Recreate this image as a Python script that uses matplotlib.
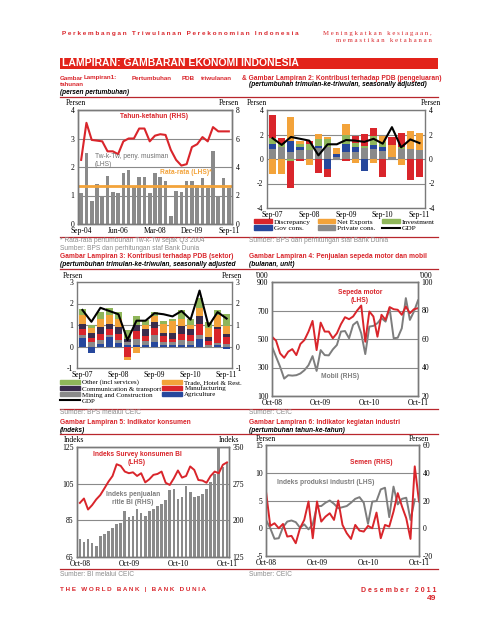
import numpy as np
import matplotlib.pyplot as plt
from matplotlib.lines import Line2D
from matplotlib.patches import Rectangle, Patch

plt.rcParams['font.family'] = ['Liberation Sans', 'DejaVu Sans']
plt.rcParams['axes.unicode_minus'] = False
SERIF = 'Liberation Serif'

RED = "#d9252b"
LINE_RED = "#b8262c"
GRAY = "#8a8a8a"
TXT_GRAY = "#8c8c8c"
FRAME = "#7a7a7a"
GRID = "#8a8a8a"
ORANGE = "#f3a33a"
GREEN = "#8fb65a"
BLUE = "#26479c"
DARK = "#3a2c4c"

# --- Chart 1: quarterly GDP growth
c1_ticks = ["Sep-04", "Jun-06", "Mar-08", "Dec-09", "Sep-11"]
qoq_sa = [1.1, 2.5, 0.82, 1.4, 1.0, 1.7, 1.12, 1.1, 1.8, 1.88, 1.3, 1.66, 1.66, 1.1, 1.8,
          1.65, 1.52, 0.28, 1.15, 1.13, 1.52, 1.52, 1.38, 1.6, 1.25, 2.55, 1.0, 1.6, 1.25]
yoy = [4.5, 7.1, 5.9, 5.85, 5.8, 5.1, 5.1, 4.9, 5.8, 6.0, 6.0, 6.7, 6.7, 5.8, 6.2,
       6.3, 6.25, 5.2, 4.5, 4.1, 4.2, 5.4, 5.6, 6.1, 5.8, 6.8, 6.5, 6.5, 6.5]
qoq_avg = 1.32

# --- Chart 2: contributions by expenditure
c2_ticks = ["Sep-07", "Sep-08", "Sep-09", "Sep-10", "Sep-11"]
private_cons = [0.8, 1.0, 0.6, 0.7, 0.7, 0.9, 1.0, 0.2, 0.6, 0.6, 0.9, 0.8, 0.65, 0.2, 0.8, 0.8, 0.7]
gov_cons = [0.4, 0, 0.85, 0.3, 0, 0.2, -0.85, 0.2, 0.6, 0.35, -1.0, 0.35, 0.35, 0, 0, 0, 0]
investment = [0.5, 0.2, -0.2, 0.2, 0.5, 0.5, 0.6, 0, 0.8, 0.35, 0.2, 0.75, 0.4, 0, 0.2, 0, 0]
net_exports = [-1.25, -1.25, 1.95, 0.3, -0.5, 0.45, 0.2, 0.5, 0.85, -0.3, 0, -0.3, 0.5, 0.95, -0.45, 1.5, 1.4]
discrepancy = [1.9, 0.5, -2.15, -0.2, 0.3, -1.15, -0.6, 0, -0.2, 0.55, 0.9, 0.65, -1.5, 0.65, 1.1, -1.75, -1.45]
gdp_qoq = [1.7, 1.15, 1.8, 1.65, 1.5, 0.3, 1.2, 1.2, 1.55, 1.5, 1.4, 1.65, 1.25, 2.6, 0.95, 1.6, 1.3]

# --- Chart 3: contributions by sector
agriculture = [0.4, -0.3, 0.1, 0.45, 0.15, 0.05, 0.05, 0.05, 0.2, 0.05, 0.05, 0.05, 0.05, 0.35, 0.0, 0.05, -0.1]
mining_constr = [0.15, 0.2, 0.2, 0.1, 0.15, 0.15, 0.3, 0.2, 0.35, 0.15, 0.15, 0.25, 0.2, 0.2, 0.05, 0.1, 0.1]
manufacturing = [0.25, 0.2, 0.3, 0.25, 0.3, -0.5, 0.35, 0.25, 0.3, 0.3, 0.15, 0.3, 0.3, 0.5, 0.2, 0.65, 0.35]
comm_transport = [0.25, 0.25, 0.3, 0.25, 0.3, 0.15, 0.3, 0.3, 0.3, 0.15, 0.3, 0.35, 0.25, 0.35, 0.2, 0.1, 0.15]
trade_hotel = [0.4, 0.2, 0.4, 0.4, 0.4, -0.15, -0.3, 0.2, 0.25, 0.4, 0.55, 0.35, 0.2, 0.4, 0.4, 0.55, 0.35]
other_serv = [0.3, 0.15, 0.3, 0.35, 0.3, 0.4, 0.4, 0.25, 0.2, 0.15, 0.1, 0.4, 0.3, 0.45, 0.3, 0.25, 0.55]

# --- Chart 4: motorcycle and car sales ('000 units, monthly)
c4_ticks = ["Oct-08", "Oct-09", "Oct-10", "Oct-11"]
motor = [516, 488, 399, 368, 411, 429, 387, 465, 493, 552, 627, 422, 615, 552, 552, 505, 540, 604, 653,
         639, 658, 700, 735, 481, 693, 658, 516, 670, 634, 724, 709, 705, 670, 728, 681, 709, 716]
mobil = [54.6, 47.5, 40.5, 32.2, 34.6, 34.3, 34.6, 35.8, 38.1, 41.6, 48, 37.6, 52.2, 48.7, 48.5, 52.7,
         55.8, 65.2, 65.6, 60.5, 69.9, 72.2, 64, 49.4, 68.7, 69.2, 71.1, 74.6, 72.2, 81.6, 60.5, 60.9,
         67.5, 88.7, 73.4, 79.3, 87.1]

# --- Chart 5: consumer indicators
survey_bi = [94.5, 96.9, 90.9, 93.3, 96.4, 98.8, 102.4, 106.1, 109.2, 115.6, 114.7, 111.6, 110.7, 111.2,
             109.2, 110.7, 105.7, 107.4, 109.8, 110.3, 111.6, 105.5, 104.3, 107.9, 112.2, 108.3, 109.2,
             114.4, 112.5, 107.0, 106.7, 105.5, 109.2, 111.6, 110.7, 115.3, 116.6]
retail_bi = [161, 155, 162, 153, 148, 167, 172, 179, 185, 193, 195, 219, 206, 208, 223, 215, 208, 219, 223,
             230, 233, 241, 262, 264, 244, 247, 271, 258, 247, 250, 254, 265, 278, 295, 347, 309, 318]

# --- Chart 6: industrial activity (yoy)
semen = [26.5, 1.7, 3.6, 0, 3.1, -6, -5.5, -10.8, 0, 6, 19.3, -7.2, 19.3, 4.8, 8.4, 10.8, 6, 20, 2.4,
         -3.6, -7.7, 2.4, -1.7, -2.4, 1.7, 0, 11.3, -7.2, 2.4, 1.2, 12, 25.3, 15.7, 7.2, -7.7, 44.6, 19.3]
ipi = [1.5, 0, -1.9, -1.8, 0.2, 1.2, 1.4, 1.1, 0.1, 0.7, -0.2, 0.7, 4.0, 4.0, 4.6, 5.0, 4.4, 3.6, 3.8,
       4.0, 4.6, 5.3, 5.6, 4.6, 0.8, 4.8, 4.9, 7.0, 7.3, 2.0, 7.5, 4.3, 5.3, 5.5, 1.5, 5.2, np.nan]

W, H = 495, 640
fig = plt.figure(figsize=(W / 100, H / 100), dpi=100)


def box(x0, y0, x1, y1):
    return [x0 / W, 1 - y1 / H, (x1 - x0) / W, (y1 - y0) / H]


def txt(x, y, s, **kw):
    kw.setdefault("va", "center")
    kw.setdefault("fontsize", 4.8)
    fig.text(x / W, 1 - y / H, s, **kw)


def hline(y, x0=60, x1=438):
    fig.add_artist(Line2D([x0 / W, x1 / W], [1 - y / H] * 2, color=LINE_RED, lw=0.9))


def style(ax, left=True, right=False):
    for s in ax.spines.values():
        s.set_color(FRAME)
        s.set_linewidth(1.0)
    ax.tick_params(length=0, labelsize=5.5, labelfontfamily=SERIF, pad=2.5,
                   labelleft=left, labelright=right)
    ax.grid(axis="y", color=GRID, lw=0.8)
    ax.set_axisbelow(True)


def stack(ax, series, colors, width):
    x = np.arange(len(series[0]))
    pos = np.zeros(len(x))
    neg = np.zeros(len(x))
    for vals, col in zip(series, colors):
        v = np.array(vals, dtype=float)
        bottom = np.where(v >= 0, pos, neg)
        ax.bar(x, v, bottom=bottom, color=col, width=width, linewidth=0)
        pos = pos + np.clip(v, 0, None)
        neg = neg + np.clip(v, None, 0)


def spaced(s):
    return "   ".join(" ".join(w) for w in s.split())


# ---------------- page header
txt(62, 33, spaced("Perkembangan Triwulanan Perekonomian Indonesia"), color=RED,
    fontsize=4.6, fontweight="bold")
txt(432, 33, spaced("Meningkatkan kesiagaan,"), color=RED, fontsize=4.9, family=SERIF, ha="right")
txt(432, 41, spaced("memastikan ketahanan"), color=RED, fontsize=4.9, family=SERIF, ha="right")
fig.add_artist(Rectangle((60 / W, 1 - 69 / H), 378 / W, 11 / H, transform=fig.transFigure,
                         color="#e2231a", lw=0))
txt(62, 63.5, "LAMPIRAN: GAMBARAN EKONOMI INDONESIA", color="white", fontsize=7.5, fontweight="bold")

for x, w in [(60, "Gambar"), (84, "Lampiran1:"), (132, "Pertumbuhan"), (182, "PDB"), (201, "triwulanan")]:
    txt(x, 78, w, color=RED, fontweight="bold", fontsize=4.5)
txt(60, 85, "tahunan", color=RED, fontweight="bold", fontsize=4.5)
txt(60, 92, "(persen pertumbuhan)", fontweight="bold", style="italic", fontsize=4.7)
txt(242, 78, "& Gambar Lampiran 2: Kontribusi terhadap PDB (pengeluaran)", color=RED, fontweight="bold")
txt(249, 85, "(pertumbuhan trimulan-ke-triwulan, seasonally adjusted)", fontweight="bold", style="italic")
hline(97)

# ---------------- chart 1
ax1 = fig.add_axes(box(78, 110, 232, 224))
n1 = len(qoq_sa)
ax1.bar(np.arange(n1), qoq_sa, color=GRAY, width=0.7, linewidth=0)
ax1.axhline(qoq_avg, color=ORANGE, lw=2)
ax1.set_xlim(-0.6, n1 - 0.4)
ax1.set_ylim(0, 4)
ax1.set_yticks([0, 1, 2, 3, 4])
ax1.set_xticks([0, 7, 14, 21, 28], c1_ticks)
style(ax1)
ax1b = ax1.twinx()
ax1b.plot(np.arange(n1), yoy, color=RED, lw=1.5)
ax1b.set_ylim(0, 8)
ax1b.set_yticks([0, 2, 4, 6, 8])
style(ax1b, left=False, right=True)
ax1b.grid(False)
txt(76, 103, "Persen", family=SERIF, fontsize=5.5, ha="center")
txt(229, 103, "Persen", family=SERIF, fontsize=5.5, ha="center")
txt(154, 117, "Tahun-ketahun (RHS)", color=RED, fontweight="bold", ha="center")
txt(95, 157, "Tw-k-Tw, peny. musiman", color="#6f6f6f")
txt(95, 165, "(LHS)", color="#6f6f6f")
txt(160, 173, "Rata-rata (LHS)*", color=ORANGE, fontweight="bold")

# ---------------- chart 2
ax2 = fig.add_axes(box(267, 110, 425, 208))
stack(ax2, [private_cons, gov_cons, investment, net_exports, discrepancy],
      [GRAY, BLUE, GREEN, ORANGE, RED], 0.78)
x2 = np.arange(len(gdp_qoq))
ax2.plot(x2, gdp_qoq, color="black", lw=1.5)
ax2.set_xlim(-0.6, len(x2) - 0.4)
ax2.set_ylim(-4, 4)
ax2.set_yticks([-4, -2, 0, 2, 4])
ax2.set_xticks([0, 4, 8, 12, 16], c2_ticks)
style(ax2, right=True)
txt(257, 103, "Persen", family=SERIF, fontsize=5.5, ha="center")
txt(431, 103, "Persen", family=SERIF, fontsize=5.5, ha="center")
h2 = [Patch(color=RED), Patch(color=BLUE), Patch(color=ORANGE), Patch(color=GRAY),
      Patch(color=GREEN), Line2D([], [], color="black", lw=1.5)]
l2 = ["Discrepancy", "Gov cons.", "Net Exports", "Private cons.", "Investment", "GDP"]
fig.legend(h2, l2, ncol=3, loc="upper left", bbox_to_anchor=(254 / W, 1 - 219 / H), frameon=False,
           prop={"family": SERIF, "size": 5.3}, handlelength=2.4, handleheight=0.55,
           handletextpad=0.3, labelspacing=0.05, columnspacing=0.9, borderpad=0, borderaxespad=0)

hline(237)
txt(60, 241, "* Rata-rata pertumbuhan Tw-k-Tw sejak Q3 2004", color=TXT_GRAY)
txt(60, 249, "Sumber: BPS dan perhitungan staf Bank Dunia", color=TXT_GRAY)
txt(249, 241, "Sumber: BPS dan perhitungan staf Bank Dunia", color=TXT_GRAY)
txt(60, 257, "Gambar Lampiran 3: Kontribusi terhadap PDB (sektor)", color=RED, fontweight="bold")
txt(60, 264, "(pertumbuhan trimulan-ke-triwulan, seasonally adjusted", fontweight="bold", style="italic")
txt(249, 257, "Gambar Lampiran 4: Penjualan sepeda motor dan mobil", color=RED, fontweight="bold")
txt(249, 264, "(bulanan, unit)", fontweight="bold", style="italic")
hline(269)

# ---------------- chart 3
ax3 = fig.add_axes(box(77, 282, 232, 368))
stack(ax3, [agriculture, mining_constr, manufacturing, comm_transport, trade_hotel, other_serv],
      [BLUE, GRAY, RED, DARK, ORANGE, GREEN], 0.78)
ax3.plot(x2, gdp_qoq, color="black", lw=1.5)
ax3.set_xlim(-0.6, len(x2) - 0.4)
ax3.set_ylim(-1, 3)
ax3.set_yticks([-1, 0, 1, 2, 3])
ax3.set_xticks([0, 4, 8, 12, 16], c2_ticks)
style(ax3, right=True)
txt(73, 276, "Persen", family=SERIF, fontsize=5.5, ha="center")
txt(232, 276, "Persen", family=SERIF, fontsize=5.5, ha="center")
h3 = [Patch(color=GREEN), Patch(color=DARK), Patch(color=GRAY), Line2D([], [], color="black", lw=1.5),
      Patch(color=ORANGE), Patch(color=RED), Patch(color=BLUE)]
l3 = ["Other (incl services)", "Communication & transport", "Mining and Construction", "GDP",
      "Trade, Hotel & Rest.", "Manufacturing", "Agriculture"]
fig.legend(h3, l3, ncol=2, loc="upper left", bbox_to_anchor=(60 / W, 1 - 379.5 / H), frameon=False,
           prop={"family": SERIF, "size": 5.0}, handlelength=2.9, handleheight=0.55,
           handletextpad=0.3, labelspacing=0.08, columnspacing=0.1, borderpad=0, borderaxespad=0)

# ---------------- chart 4
ax4 = fig.add_axes(box(272, 282, 418, 396))
xm = np.arange(len(motor))
ax4.plot(xm, motor, color=RED, lw=1.4)
ax4.set_xlim(0, len(motor) - 1)
ax4.set_ylim(100, 900)
ax4.set_yticks([100, 300, 500, 700, 900])
ax4.set_xticks([0, 12, 24, 36], c4_ticks)
style(ax4)
ax4b = ax4.twinx()
ax4b.plot(xm, mobil, color="#7d7d7d", lw=1.4)
ax4b.set_ylim(20, 100)
ax4b.set_yticks([20, 40, 60, 80, 100])
style(ax4b, left=False, right=True)
ax4b.grid(False)
ax4.set_zorder(ax4b.get_zorder() + 1)
ax4.patch.set_visible(False)
txt(262, 276, "'000", family=SERIF, fontsize=5.5, ha="center")
txt(426, 276, "'000", family=SERIF, fontsize=5.5, ha="center")
txt(360, 293, "Sepeda motor", color=RED, fontweight="bold", ha="center")
txt(360, 301, "(LHS)", color=RED, fontweight="bold", ha="center")
txt(340, 377, "Mobil (RHS)", color="#7d7d7d", fontweight="bold", ha="center")

hline(409)
txt(60, 413, "Sumber: BPS melalui CEIC", color=TXT_GRAY)
txt(249, 413, "Sumber: CEIC", color=TXT_GRAY)
txt(60, 422, "Gambar Lampiran 5: Indikator konsumen", color=RED, fontweight="bold")
txt(60, 430, "(indeks)", fontweight="bold", style="italic")
txt(249, 422, "Gambar Lampiran 6: Indikator kegiatan industri", color=RED, fontweight="bold")
txt(249, 430, "(pertumbuhan tahun-ke-tahun)", fontweight="bold", style="italic")
hline(434)

# ---------------- chart 5
ax5 = fig.add_axes(box(77, 447, 229, 557))
ax5b = ax5.twinx()
ax5b.bar(np.arange(len(retail_bi)), retail_bi, color=GRAY, width=0.65, linewidth=0)
ax5b.set_ylim(125, 350)
ax5b.set_yticks([125, 200, 275, 350])
style(ax5b, left=False, right=True)
ax5b.grid(False)
ax5.plot(np.arange(len(survey_bi)), survey_bi, color=RED, lw=1.4)
ax5.set_xlim(-0.7, len(retail_bi) - 0.5)
ax5.set_ylim(65, 125)
ax5.set_yticks([65, 85, 105, 125])
ax5.set_xticks([0, 12, 24, 36], c4_ticks)
style(ax5)
ax5.set_zorder(ax5b.get_zorder() + 1)
ax5.patch.set_visible(False)
txt(74, 440, "Indeks", family=SERIF, fontsize=5.5, ha="center")
txt(229, 440, "Indeks", family=SERIF, fontsize=5.5, ha="center")
txt(137, 454, "Indeks Survey konsumen BI", color=RED, fontweight="bold", ha="center")
txt(137, 462, "(LHS)", color=RED, fontweight="bold", ha="center")
txt(133, 495, "Indeks penjualan", color="#7d7d7d", fontweight="bold", ha="center")
txt(133, 503, "ritle BI (RHS)", color="#7d7d7d", fontweight="bold", ha="center")

# ---------------- chart 6
ax6 = fig.add_axes(box(266, 445, 419, 556))
ax6.plot(np.arange(len(ipi)), ipi, color="#7d7d7d", lw=1.4)
ax6.set_xlim(0, len(ipi) - 1)
ax6.set_ylim(-5, 15)
ax6.set_yticks([-5, 0, 5, 10, 15])
ax6.set_xticks([0, 12, 24, 36], c4_ticks)
style(ax6)
ax6b = ax6.twinx()
ax6b.plot(np.arange(len(semen)), semen, color=RED, lw=1.4)
ax6b.set_ylim(-20, 60)
ax6b.set_yticks([-20, 0, 20, 40, 60])
style(ax6b, left=False, right=True)
ax6b.grid(False)
txt(266, 439, "Persen", family=SERIF, fontsize=5.5, ha="center")
txt(419, 439, "Persen", family=SERIF, fontsize=5.5, ha="center")
txt(371, 463, "Semen (RHS)", color=RED, fontweight="bold", ha="center")
txt(277, 483, "Indeks produksi industri (LHS)", color="#7d7d7d", fontweight="bold")

hline(569)
txt(60, 574, "Sumber: BI melalui CEIC", color=TXT_GRAY)
txt(249, 574, "Sumber: CEIC", color=TXT_GRAY)

# ---------------- footer
txt(60, 590, spaced("THE WORLD BANK") + "   |   " + spaced("BANK DUNIA"), color=RED,
    fontsize=4.5, fontweight="bold")
txt(436, 590, spaced("Desember 2011"), color=RED, fontsize=5.0, fontweight="bold", ha="right")
txt(436, 598, "49", color=RED, fontsize=6.0, fontweight="bold", ha="right")

fig.savefig("out.png", dpi=100)
